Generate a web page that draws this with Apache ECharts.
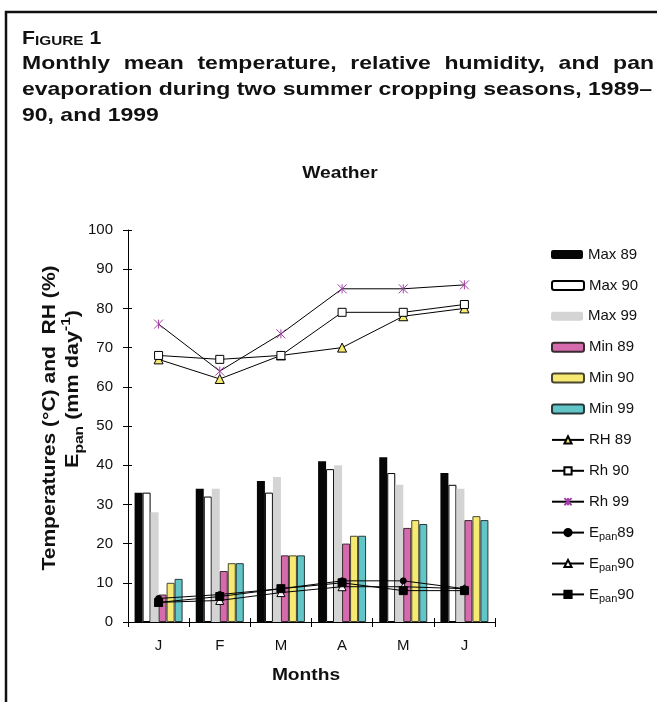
<!DOCTYPE html>
<html>
<head>
<meta charset="utf-8">
<script src="https://cdn.jsdelivr.net/npm/echarts@6/dist/echarts.min.js"></script>
<style>
  html, body { margin: 0; padding: 0; background: #fff; }
  #chart { width: 657px; height: 702px; }
</style>
</head>
<body>
<div id="chart"></div>
<script>
// months on the x axis
var months = ['J', 'F', 'M', 'A', 'M', 'J']
var yTicks = [0, 10, 20, 30, 40, 50, 60, 70, 80, 90, 100]

// temperatures (bars)
var max89 = [33, 34, 36, 41, 42, 38]
var max90 = [33, 32, 33, 39, 38, 35]
var max99 = [28, 34, 37, 40, 35, 34]
var min89 = [7, 13, 17, 20, 24, 26]
var min90 = [10, 15, 17, 22, 26, 27]
var min99 = [11, 15, 17, 22, 25, 26]

// relative humidity (lines)
var rh89 = [67, 62, 68, 70, 78, 80]
var rh90 = [68, 67, 68, 79, 79, 81]
var rh99 = [76, 64, 73.5, 85, 85, 86]

// pan evaporation (lines)
var epan89 = [6, 7, 8.5, 10.5, 10.5, 8.5]
var epan90 = [5, 5.5, 7.5, 9, 9, 8.5]
var epan90b = [5, 6.5, 8.5, 10, 8, 8]

var FONT = '"Liberation Sans", Arial, sans-serif'

var chart = echarts.init(document.getElementById('chart'))

function bar (name, data, color, border) {
  return {
    name: name,
    type: 'bar',
    data: data,
    barWidth: 8,
    barGap: '0%',
    legendIcon: 'rect',
    itemStyle: {
      color: color,
      borderColor: border || color,
      borderWidth: border ? 1 : 0
    }
  }
}

function line (name, data, symbol, size, fill, stroke) {
  return {
    name: name,
    type: 'line',
    data: data,
    symbol: symbol,
    symbolSize: size,
    lineStyle: { color: '#000', width: 1 },
    itemStyle: { color: fill, borderColor: stroke, borderWidth: 1 },
    z: 3
  }
}

var star = 'path://M0,0L10,10M10,0L0,10M5,0L5,10'

var series = [
  bar('Max 89', max89, '#060606'),
  bar('Max 90', max90, '#ffffff', '#000'),
  bar('Max 99', max99, '#d4d4d4'),
  bar('Min 89', min89, '#d56aac', '#3a2a32'),
  bar('Min 90', min90, '#f6ea72', '#4a4630'),
  bar('Min 99', min99, '#62c5c8', '#2a3a3a'),
  line('RH 89', rh89, 'triangle', 9, '#f6ea72', '#000'),
  line('Rh 90', rh90, 'rect', 8, '#ffffff', '#000'),
  line('Rh 99', rh99, star, 9, 'rgba(0,0,0,0)', '#a33fa8'),
  line('Epan 89', epan89, 'circle', 6, '#000', '#000'),
  line('Epan 90', epan90, 'triangle', 8, '#ffffff', '#000'),
  line('Epan 90b', epan90b, 'rect', 8, '#000', '#000')
]

// E with "pan" subscript
var richText = {
  n: { fontSize: 15, fontFamily: FONT, color: '#111', lineHeight: 20, verticalAlign: 'middle' },
  s: { fontSize: 11, fontFamily: FONT, color: '#111', lineHeight: 13, verticalAlign: 'bottom' }
}
function legendLabel (name) {
  if (name.indexOf('Epan') === 0) {
    var yr = name.replace('Epan ', '').replace('b', '')
    return '{n|E}{s|pan}{n|' + yr + '}'
  }
  return '{n|' + name + '}'
}

var legends = series.map(function (s, i) {
  return {
    data: [s.name],
    left: 551,
    top: 247 + i * 30.9,
    orient: 'vertical',
    padding: 0,
    itemWidth: 32,
    itemHeight: 9,
    itemGap: 0,
    selectedMode: false,
    formatter: legendLabel,
    textStyle: { rich: richText }
  }
})

// the original text is set wider than the font: stretch it the same way
var ctx = document.createElement('canvas').getContext('2d')
var titleFont = 'bold 19px ' + FONT
ctx.font = titleFont
var line2 = 'evaporation during two summer cropping seasons, 1989\u2013'
var stretch = 630 / ctx.measureText(line2).width

function titleText (text, x, y) {
  return {
    type: 'text',
    x: x,
    y: y,
    scaleX: stretch,
    style: { text: text, font: titleFont, fill: '#111', textVerticalAlign: 'middle' }
  }
}
function justify (text, y, x0, x1) {
  var words = text.split(' ')
  var widths = words.map(function (w) { return ctx.measureText(w).width * stretch })
  var total = widths.reduce(function (a, b) { return a + b }, 0)
  var gap = (x1 - x0 - total) / (words.length - 1)
  var x = x0
  return words.map(function (w, i) {
    var el = titleText(w, x, y)
    x += widths[i] + gap
    return el
  })
}

var graphics = [
  {
    type: 'rect',
    shape: { x: 6, y: 12, width: 800, height: 800 },
    style: { fill: 'none', stroke: '#111', lineWidth: 2.5 }
  },
  {
    type: 'text',
    x: 22,
    y: 48,
    scaleX: 1.18,
    style: {
      text: '{a|F}{b|IGURE}{a| 1}',
      textVerticalAlign: 'bottom',
      rich: {
        a: { font: 'bold 18px ' + FONT, fill: '#111', verticalAlign: 'bottom', lineHeight: 18 },
        b: { font: 'bold 13px ' + FONT, fill: '#111', verticalAlign: 'bottom', lineHeight: 15 }
      }
    }
  },
  titleText(line2, 22, 90),
  titleText('90, and 1999', 22, 116),
  {
    type: 'text',
    x: 340,
    y: 174,
    scaleX: 1.2,
    style: { text: 'Weather', font: 'bold 16px ' + FONT, fill: '#111', textAlign: 'center', textVerticalAlign: 'middle' }
  },
  {
    type: 'text',
    x: 306,
    y: 676,
    scaleX: 1.2,
    style: { text: 'Months', font: 'bold 16px ' + FONT, fill: '#111', textAlign: 'center', textVerticalAlign: 'middle' }
  },
  {
    type: 'text',
    x: 50,
    y: 418,
    rotation: Math.PI / 2,
    scaleX: 1.17,
    style: { text: 'Temperatures (°C) and  RH (%)', font: 'bold 18px ' + FONT, fill: '#111', textAlign: 'center', textVerticalAlign: 'middle' }
  },
  {
    type: 'text',
    x: 73,
    y: 389,
    rotation: Math.PI / 2,
    scaleX: 1.2,
    style: {
      text: '{b|E}{s|pan}{b| (mm day}{p|-1}{b|)}',
      textAlign: 'center',
      textVerticalAlign: 'middle',
      rich: {
        b: { font: 'bold 18px ' + FONT, fill: '#111', lineHeight: 26, verticalAlign: 'middle' },
        s: { font: 'bold 13px ' + FONT, fill: '#111', lineHeight: 13, verticalAlign: 'bottom' },
        p: { font: 'bold 13px ' + FONT, fill: '#111', lineHeight: 13, verticalAlign: 'top' }
      }
    }
  }
]
graphics = graphics.concat(justify('Monthly mean temperature, relative humidity, and pan', 64, 22, 654))

var option = {
  animation: false,
  backgroundColor: '#fff',
  textStyle: { fontFamily: FONT },
  grid: { left: 128, right: 162, top: 230, bottom: 80 },
  legend: legends,
  xAxis: [
    {
      type: 'category',
      data: months,
      axisLine: { lineStyle: { color: '#000', width: 1 } },
      axisTick: { show: true, length: 5, lineStyle: { color: '#000' } },
      axisLabel: { fontSize: 15, color: '#111', margin: 16, fontFamily: FONT },
      barCategoryGap: '20%'
    },
    {
      type: 'category',
      data: months,
      position: 'bottom',
      axisLine: { show: false },
      axisTick: { show: true, inside: true, length: 4, lineStyle: { color: '#000' } },
      axisLabel: { show: false }
    }
  ],
  yAxis: [
    {
      type: 'value',
      min: 0,
      max: 100,
      interval: 10,
      axisLine: { show: true, lineStyle: { color: '#000', width: 1 } },
      axisTick: { show: true, length: 5, lineStyle: { color: '#000' } },
      axisLabel: {
        fontSize: 15,
        color: '#111',
        margin: 15,
        fontFamily: FONT,
        formatter: function (v) { return yTicks.indexOf(v) >= 0 ? String(v) : '' }
      },
      splitLine: { show: false }
    },
    {
      type: 'value',
      min: 0,
      max: 100,
      interval: 10,
      position: 'left',
      axisLine: { show: false },
      axisTick: { show: true, inside: true, length: 4, lineStyle: { color: '#000' } },
      axisLabel: { show: false },
      splitLine: { show: false }
    }
  ],
  series: series,
  graphic: graphics
}

chart.setOption(option)
</script>
</body>
</html>
